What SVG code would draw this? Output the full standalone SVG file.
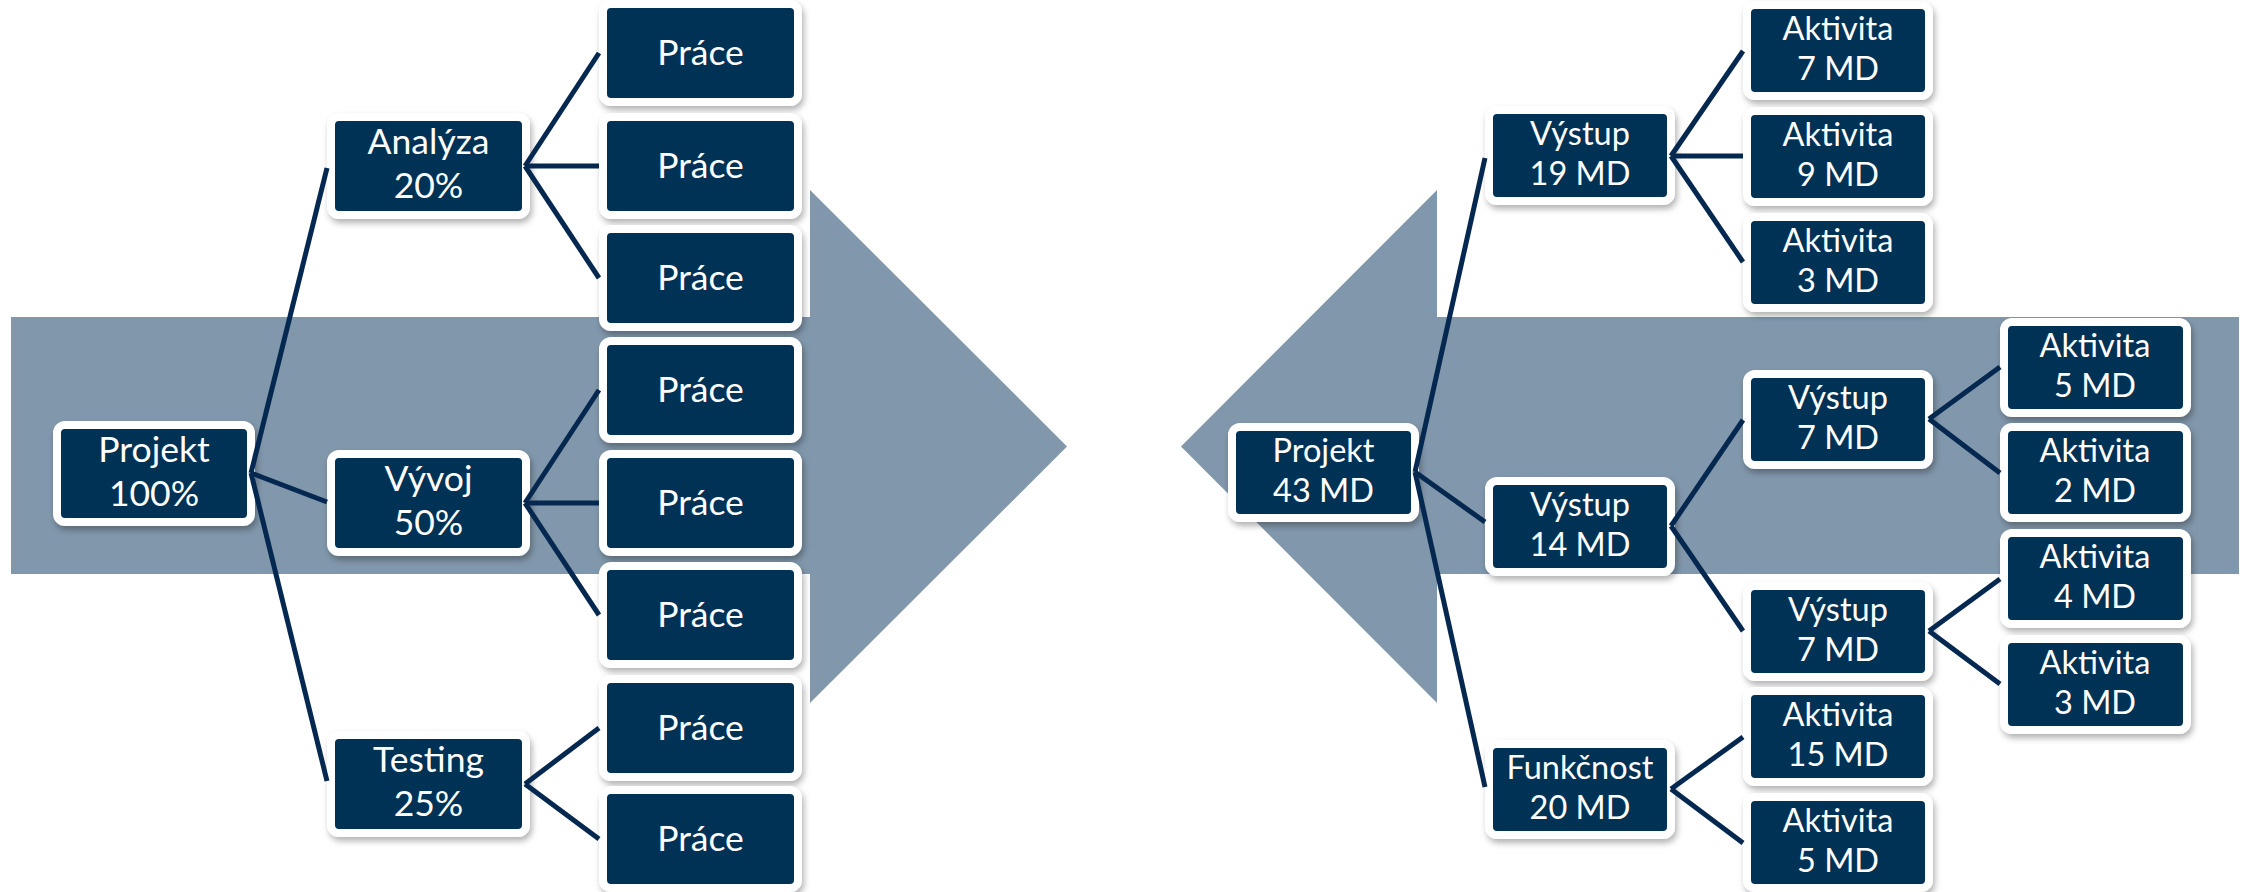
<svg xmlns="http://www.w3.org/2000/svg" width="2244" height="892" viewBox="0 0 2244 892">
<style>
.bg{fill:#ffffff}
.band{fill:#8197ab}
.b{fill:#003057;stroke:#ffffff;stroke-width:8;filter:url(#sh)}
.t{fill:#ffffff;font-family:Lato,"Liberation Sans",sans-serif;text-anchor:middle}
.L{font-size:35.5px}
.R{font-size:32.5px}
.c line{stroke:#04284f;stroke-width:5;stroke-linecap:butt}
</style>
<defs>
<filter id="sh" x="-20%" y="-20%" width="140%" height="150%">
<feDropShadow dx="2" dy="4" stdDeviation="3" flood-color="#000000" flood-opacity="0.3"/>
</filter>
</defs>
<rect class="bg" x="0" y="0" width="2244" height="892"/>
<g id="arrows">
<polygon class="band" points="11,317 810,317 810,190 1067,446.5 810,703 810,574 11,574"/>
<polygon class="band" points="2239,317 1437,317 1437,190 1181,446.5 1437,703 1437,574 2239,574"/>
</g>
<!-- left tree nodes -->
<g id="l-projekt"><rect class="b" x="57" y="425" width="194" height="97" rx="8"/><text class="t L"><tspan x="154" y="461.5">Projekt</tspan><tspan x="154" y="505.5">100%</tspan></text></g>
<g id="l-analyza"><rect class="b" x="331" y="117" width="195" height="98" rx="8"/><text class="t L"><tspan x="428.5" y="154">Analýza</tspan><tspan x="428.5" y="198">20%</tspan></text></g>
<g id="l-vyvoj"><rect class="b" x="331" y="454" width="195" height="98" rx="8"/><text class="t L"><tspan x="428.5" y="491">Vývoj</tspan><tspan x="428.5" y="535">50%</tspan></text></g>
<g id="l-testing"><rect class="b" x="331" y="735" width="195" height="98" rx="8"/><text class="t L"><tspan x="428.5" y="772">Testing</tspan><tspan x="428.5" y="816">25%</tspan></text></g>
<g id="l-prace1"><rect class="b" x="603" y="4" width="195" height="98" rx="8"/><text class="t L" x="700.5" y="65">Práce</text></g>
<g id="l-prace2"><rect class="b" x="603" y="117" width="195" height="98" rx="8"/><text class="t L" x="700.5" y="178">Práce</text></g>
<g id="l-prace3"><rect class="b" x="603" y="229" width="195" height="98" rx="8"/><text class="t L" x="700.5" y="290">Práce</text></g>
<g id="l-prace4"><rect class="b" x="603" y="341" width="195" height="98" rx="8"/><text class="t L" x="700.5" y="402">Práce</text></g>
<g id="l-prace5"><rect class="b" x="603" y="454" width="195" height="98" rx="8"/><text class="t L" x="700.5" y="515">Práce</text></g>
<g id="l-prace6"><rect class="b" x="603" y="566" width="195" height="98" rx="8"/><text class="t L" x="700.5" y="627">Práce</text></g>
<g id="l-prace7"><rect class="b" x="603" y="679" width="195" height="98" rx="8"/><text class="t L" x="700.5" y="740">Práce</text></g>
<g id="l-prace8"><rect class="b" x="603" y="790" width="195" height="98" rx="8"/><text class="t L" x="700.5" y="851">Práce</text></g>
<!-- right tree nodes -->
<g id="r-projekt"><rect class="b" x="1232" y="427" width="183" height="91" rx="8"/><text class="t R"><tspan x="1323.5" y="462">Projekt</tspan><tspan x="1323.5" y="502">43 MD</tspan></text></g>
<g id="r-vystup19"><rect class="b" x="1489" y="110" width="182" height="91" rx="8"/><text class="t R"><tspan x="1580" y="145">Výstup</tspan><tspan x="1580" y="185">19 MD</tspan></text></g>
<g id="r-vystup14"><rect class="b" x="1489" y="481" width="182" height="91" rx="8"/><text class="t R"><tspan x="1580" y="516">Výstup</tspan><tspan x="1580" y="556">14 MD</tspan></text></g>
<g id="r-funkcnost"><rect class="b" x="1489" y="744" width="182" height="91" rx="8"/><text class="t R"><tspan x="1580" y="779">Funkčnost</tspan><tspan x="1580" y="819">20 MD</tspan></text></g>
<g id="r-akt7"><rect class="b" x="1747" y="5" width="182" height="91" rx="8"/><text class="t R"><tspan x="1838" y="40">Aktivita</tspan><tspan x="1838" y="80">7 MD</tspan></text></g>
<g id="r-akt9"><rect class="b" x="1747" y="111" width="182" height="91" rx="8"/><text class="t R"><tspan x="1838" y="146">Aktivita</tspan><tspan x="1838" y="186">9 MD</tspan></text></g>
<g id="r-akt3a"><rect class="b" x="1747" y="217" width="182" height="91" rx="8"/><text class="t R"><tspan x="1838" y="252">Aktivita</tspan><tspan x="1838" y="292">3 MD</tspan></text></g>
<g id="r-vystup7a"><rect class="b" x="1747" y="374" width="182" height="91" rx="8"/><text class="t R"><tspan x="1838" y="409">Výstup</tspan><tspan x="1838" y="449">7 MD</tspan></text></g>
<g id="r-vystup7b"><rect class="b" x="1747" y="586" width="182" height="91" rx="8"/><text class="t R"><tspan x="1838" y="621">Výstup</tspan><tspan x="1838" y="661">7 MD</tspan></text></g>
<g id="r-akt15"><rect class="b" x="1747" y="691" width="182" height="91" rx="8"/><text class="t R"><tspan x="1838" y="726">Aktivita</tspan><tspan x="1838" y="766">15 MD</tspan></text></g>
<g id="r-akt5b"><rect class="b" x="1747" y="797" width="182" height="91" rx="8"/><text class="t R"><tspan x="1838" y="832">Aktivita</tspan><tspan x="1838" y="872">5 MD</tspan></text></g>
<g id="r-akt5a"><rect class="b" x="2004" y="322" width="183" height="91" rx="8"/><text class="t R"><tspan x="2095" y="357">Aktivita</tspan><tspan x="2095" y="397">5 MD</tspan></text></g>
<g id="r-akt2"><rect class="b" x="2004" y="427" width="183" height="91" rx="8"/><text class="t R"><tspan x="2095" y="462">Aktivita</tspan><tspan x="2095" y="502">2 MD</tspan></text></g>
<g id="r-akt4"><rect class="b" x="2004" y="533" width="183" height="91" rx="8"/><text class="t R"><tspan x="2095" y="568">Aktivita</tspan><tspan x="2095" y="608">4 MD</tspan></text></g>
<g id="r-akt3b"><rect class="b" x="2004" y="639" width="183" height="91" rx="8"/><text class="t R"><tspan x="2095" y="674">Aktivita</tspan><tspan x="2095" y="714">3 MD</tspan></text></g>
<!-- connectors -->
<g id="connectors" class="c">
<line x1="251" y1="473" x2="327" y2="168"/>
<line x1="251" y1="473" x2="327" y2="502"/>
<line x1="251" y1="473" x2="327" y2="781"/>
<line x1="525" y1="166" x2="599" y2="53"/>
<line x1="525" y1="166" x2="599" y2="166"/>
<line x1="525" y1="166" x2="599" y2="278"/>
<line x1="525" y1="503" x2="599" y2="390"/>
<line x1="525" y1="503" x2="599" y2="503"/>
<line x1="525" y1="503" x2="599" y2="615"/>
<line x1="525" y1="784" x2="599" y2="728"/>
<line x1="525" y1="784" x2="599" y2="839"/>
<line x1="1415" y1="472" x2="1485" y2="158"/>
<line x1="1415" y1="472" x2="1485" y2="522"/>
<line x1="1415" y1="472" x2="1485" y2="787"/>
<line x1="1671" y1="156" x2="1743" y2="51"/>
<line x1="1671" y1="156" x2="1743" y2="156"/>
<line x1="1671" y1="156" x2="1743" y2="262"/>
<line x1="1671" y1="526" x2="1743" y2="420"/>
<line x1="1671" y1="526" x2="1743" y2="631"/>
<line x1="1929" y1="419" x2="2000" y2="367"/>
<line x1="1929" y1="419" x2="2000" y2="473"/>
<line x1="1929" y1="631" x2="2000" y2="579"/>
<line x1="1929" y1="631" x2="2000" y2="684"/>
<line x1="1671" y1="789" x2="1743" y2="737"/>
<line x1="1671" y1="789" x2="1743" y2="843"/>
</g>
</svg>
